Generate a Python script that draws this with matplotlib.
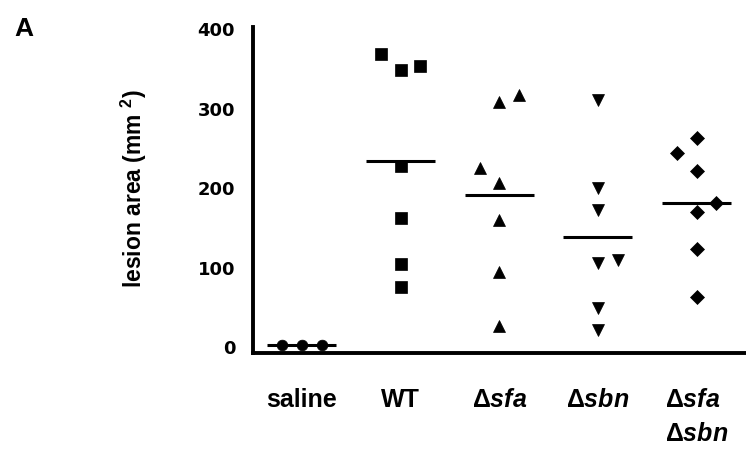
import numpy as np
import matplotlib
matplotlib.use("Agg")
import matplotlib.pyplot as plt

# lesion area (mm^2) per mouse
groups = ['saline', 'WT', r'$\Delta\mathit{sfa}$', r'$\Delta\mathit{sbn}$',
          '$\\Delta\\mathit{sfa}$\n$\\Delta\\mathit{sbn}$']
saline = [2.5, 2.5, 2.5]
wt = [369, 349, 354, 228, 162, 105, 75]
d_sfa = [308, 317, 225, 207, 160, 95, 26]
d_sbn = [311, 200, 172, 106, 110, 49, 21]
d_sfa_sbn = [263, 244, 222, 181, 170, 123, 63]

# sideways shift of overlapping points (category units)
jitter_saline = [-0.2, 0, 0.2]
jitter_wt = [-0.2, 0, 0.2, 0, 0, 0, 0]
jitter_sfa = [0, 0.2, -0.2, 0, 0, 0, 0]
jitter_sbn = [0, 0, 0, 0, 0.2, 0, 0]
jitter_both = [0, -0.2, 0, 0.2, 0, 0, 0]

plt.rcParams['font.family'] = 'Liberation Sans'
plt.rcParams['font.weight'] = 'bold'
plt.rcParams['mathtext.fontset'] = 'custom'
plt.rcParams['mathtext.rm'] = 'Liberation Sans:bold'
plt.rcParams['mathtext.bf'] = 'Liberation Sans:bold'
plt.rcParams['mathtext.it'] = 'Liberation Sans:bold:italic'

fig = plt.figure(figsize=(7.46, 4.49), dpi=100)
W, H = 746, 449
ax = fig.add_axes([252.5 / W, 1 - 353 / H, (746 - 252.5) / W, 326 / H])

series = [(saline, jitter_saline, 'o', 7.7),
          (wt, jitter_wt, 's', 8.5),
          (d_sfa, jitter_sfa, '^', 9),
          (d_sbn, jitter_sbn, 'v', 9),
          (d_sfa_sbn, jitter_both, 'D', 6.7)]

for i, (vals, jit, mk, ms) in enumerate(series):
    xs = i + np.array(jit)
    ax.plot(xs, vals, linestyle='none', marker=mk, ms=ms, color='black',
            mew=0.5, zorder=3)
    ax.hlines(np.mean(vals), i - 0.35, i + 0.35, color='black', lw=2.2,
              zorder=2)

ax.set_xlim(-0.5, 4.5)
ax.set_ylim(-7.5, 403)
ax.set_yticks([0, 100, 200, 300, 400])
ax.set_xticks(range(len(groups)))
ax.set_xticklabels(groups, fontsize=18, multialignment='left', linespacing=1.55)

for lab in ax.get_yticklabels():
    lab.set_fontfamily('DejaVu Sans')
    lab.set_fontweight('bold')
    lab.set_fontsize(13)

ax.tick_params(axis='y', length=0, pad=12.5)
ax.tick_params(axis='x', length=0, pad=25)

for s in ['top', 'right']:
    ax.spines[s].set_visible(False)
for s in ['left', 'bottom']:
    ax.spines[s].set_linewidth(2.8)

fig.text(134 / W, 1 - 189 / H, r'lesion area (mm $^{\mathrm{2}}$)',
         rotation=90, ha='center', va='center', fontsize=16.5)
fig.text(14 / W, 1 - 35.7 / H, 'A', ha='left', va='baseline', fontsize=19)

fig.savefig('out.png', dpi=100)
